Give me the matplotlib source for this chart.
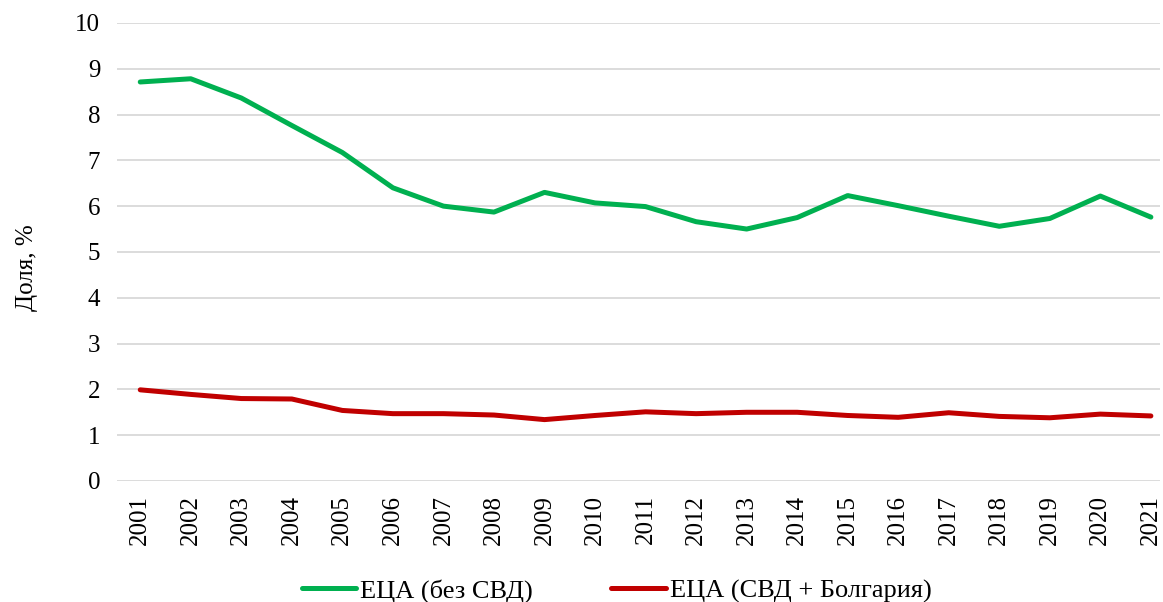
import matplotlib.pyplot as plt

plt.rcParams['font.family'] = ['Liberation Serif', 'DejaVu Serif']

years = [str(y) for y in range(2001, 2022)]
eca_no_svd = [8.71, 8.78, 8.36, 7.76, 7.17, 6.40, 6.00, 5.87, 6.30, 6.07,
              5.99, 5.66, 5.50, 5.75, 6.23, 6.01, 5.78, 5.56, 5.73, 6.22, 5.76]
eca_svd_bg = [1.99, 1.89, 1.80, 1.79, 1.54, 1.47, 1.47, 1.44, 1.34, 1.43,
              1.51, 1.47, 1.50, 1.50, 1.43, 1.39, 1.49, 1.41, 1.38, 1.46, 1.42]

fig = plt.figure(figsize=(11.63, 6.02), dpi=100)
ax = fig.add_axes([0.1006, 0.201, 0.8968, 0.761])

x = range(len(years))
ax.plot(x, eca_no_svd, color="#00B050", linewidth=3.6, solid_capstyle="round",
        label="ЕЦА (без СВД)")
ax.plot(x, eca_svd_bg, color="#C00000", linewidth=3.6, solid_capstyle="round",
        label="ЕЦА (СВД + Болгария)")

ax.set_ylim(0, 10)
ax.set_yticks(range(0, 11))
ax.set_xlim(-0.46, 20.18)
ax.set_xticks(list(x))
ax.set_xticklabels(years, rotation=90)
ax.tick_params(axis="both", length=0, labelsize=18, colors="black")
ax.tick_params(axis="y", pad=12)
ax.tick_params(axis="x", pad=10)
ax.grid(axis="y", color="#D9D9D9", linewidth=1.3)
ax.set_axisbelow(True)
for s in ax.spines.values():
    s.set_visible(False)

ax.set_ylabel("Доля, %", fontsize=18)
ax.yaxis.set_label_coords(-0.076, 0.465)

fig.legend(loc="center", bbox_to_anchor=(0.53, 0.018), ncol=2,
           frameon=False, fontsize=19, handlelength=2.05, columnspacing=3.0,
           handletextpad=0.15)

fig.savefig("out.png", dpi=100)
